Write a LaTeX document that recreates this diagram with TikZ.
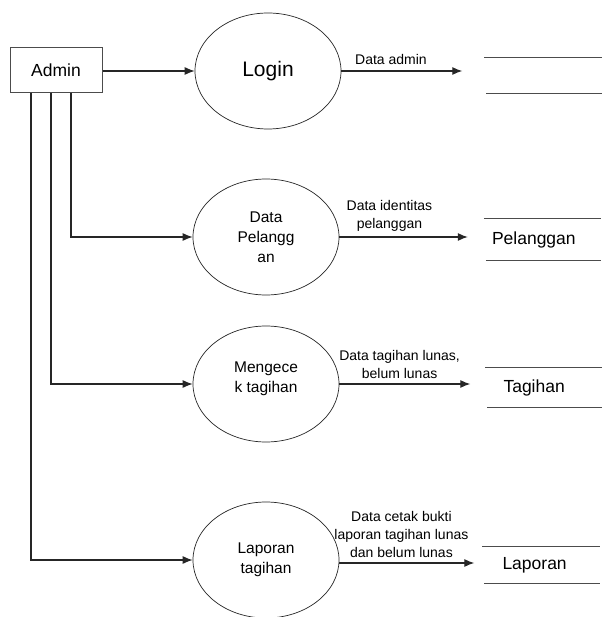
\documentclass[tikz,border=0pt]{standalone}
\usepackage{fontspec}
\setmainfont{Liberation Sans}
\usetikzlibrary{shapes,arrows,arrows.meta,calc,positioning}
\tikzset{
    entity/.style = {draw=black!70, rectangle, line width=1pt,
        minimum width=92pt,
        minimum height=45pt, font=\fontsize{17.5}{20}\selectfont},
    proc/.style = {draw=black!85, ellipse, line width=0.7pt,
        minimum width=146pt,
        minimum height=116pt, align=center, font=\fontsize{15.5}{20}\selectfont},
    store/.style = {rectangle, inner sep=0pt, minimum width=117pt},
    storeline/.style = {draw=black!70, line width=1pt},
    storetext/.style = {inner sep=0pt, font=\fontsize{17.5}{20}\selectfont},
    flow/.style = {draw=black!85, -{Latex[length=10pt,width=8pt]}, line width=1.1pt},
    flowlabel/.style = {align=center, inner sep=1pt, font=\fontsize{14}{18}\selectfont}
}
\begin{document}
\begin{tikzpicture}[x=1pt,y=-1pt]
                \useasboundingbox (0,0) rectangle (601,617);
                % external entity and processes
                \node[entity] (admin) at (56,70) {Admin};
                \node[proc,font=\fontsize{21}{24}\selectfont] (login) at (268,71) {Login};
                \node[proc] (datapel) at (266,237) {Data\\Pelangg\\an};
                \node[proc] (cektag) at (266,384) {Mengece\\k tagihan\\[-12pt] \strut};
                \node[proc] (laptag) at (266,560) {Laporan\\tagihan};
                % data stores
                \node[store,minimum height=35pt] (store1) at (543,75.5) {};
                \node[store,minimum height=41pt] (store2) at (542.5,239.5) {};
                \node[store,minimum height=39pt] (store3) at (544,387.5) {};
                \node[store,minimum height=36pt] (store4) at (541,565) {};
                \node[storetext,right=8pt of store2.west] (store2txt) {Pelanggan};
                \node[storetext,right=18pt of store3.west] (store3txt) {Tagihan};
                \node[storetext,right=20pt of store4.west] (store4txt) {Laporan};
                \foreach \s in {store1,store2,store3,store4}{
                    \draw[storeline] (\s.north west) -- (\s.north east);
                    \draw[storeline] ([xshift=2pt]\s.south west) -- (\s.south east);
                }
                % flows from admin
                \draw[flow] (admin.east |- login.west) -- (login.west);
                \draw[flow] ([xshift=15pt]admin.south) |- (datapel.west);
                \draw[flow] ([xshift=-5pt]admin.south) |- (cektag.west);
                \draw[flow] ([xshift=-25pt]admin.south) |- (laptag.west);
                % flows to stores
                \coordinate (in1) at ($(login.east -| store1.west)+(-22,0)$);
                \coordinate (in2) at ($(datapel.east -| store2.west)+(-16,0)$);
                \coordinate (in3) at ($(cektag.east -| store3.west)+(-15,0)$);
                \coordinate (in4) at ($([yshift=-3pt]laptag.east -| store4.west)+(-8,0)$);
                \draw[flow] (login.east) -- node[flowlabel,above=5pt,pos=.41]{Data admin} (in1);
                \draw[flow] (datapel.east) -- node[flowlabel,above=4pt,pos=.39]{Data identitas\\pelanggan} (in2);
                \draw[flow] (cektag.east) -- node[flowlabel,above=4pt,pos=.46]{Data tagihan lunas,\\belum lunas} (in3);
                \draw[flow] ([yshift=-3pt]laptag.east) -- node[flowlabel,above=4pt,pos=.46]{Data cetak bukti\\laporan tagihan lunas\\dan belum lunas} (in4);
            \end{tikzpicture}
\end{document}
